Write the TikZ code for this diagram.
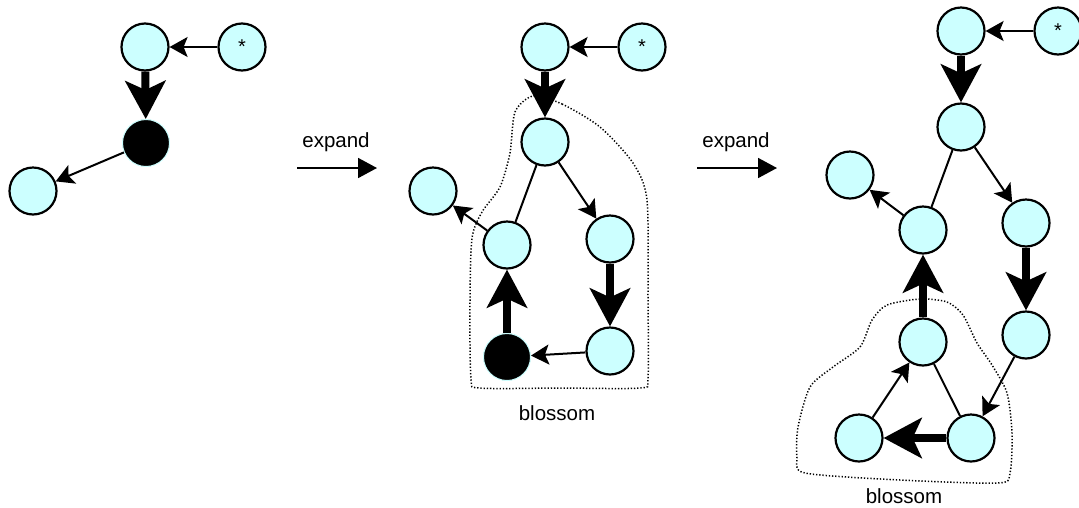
\documentclass[tikz,border=0pt]{standalone}
\usepackage{fontspec}
\setmainfont{Liberation Sans}
\usetikzlibrary{arrows.meta}
\definecolor{nodefill}{RGB}{204,255,255}
\begin{document}
\begin{tikzpicture}[x=1pt,y=-1pt,
  vtx/.style={circle,draw=black,line width=2.2pt,fill=nodefill,minimum size=47pt,inner sep=0pt,font=\fontsize{20}{20}\selectfont},
  blk/.style={circle,draw=nodefill,line width=1pt,fill=black,minimum size=47pt,inner sep=0pt},
  thin/.style={line width=2pt,-{Stealth[length=18pt,width=20pt,inset=4pt]}},
  plain/.style={line width=2pt},
  thick/.style={line width=8pt,-{Stealth[length=38pt,width=40pt,inset=9pt]}},
  expandarrow/.style={line width=1.8pt,-{Triangle[length=19pt,width=20pt]}},
  lbl/.style={font=\fontsize{20.5}{20.5}\selectfont},
  blossomline/.style={line width=1.5pt,dash pattern=on 1.3pt off 1.9pt}
]
\useasboundingbox (0,0) rectangle (1079,507);

% ---------- left graph ----------
\node[vtx] (a1) at (145,47) {};
\node[vtx] (s1) at (242,47) {*};
\node[blk] (b1) at (146,143) {};
\node[vtx] (l1) at (33,191) {};
\draw[thin] (s1) -- (a1);
\draw[thick] (a1) -- (b1);
\draw[thin] (b1) -- (l1);

% ---------- expand 1 ----------
\coordinate (e1s) at (297,168);
\coordinate (e1e) at (377,168);
\draw[expandarrow] (e1s) -- (e1e);
\node[lbl] (e1t) at (336,142) {expand};

% ---------- middle graph ----------
\draw[blossomline] plot[smooth cycle,tension=0.45] coordinates {
  (533,96) (562,104) (600,127) (633,163) (647,200) (648,300) (648,378)
  (640,388) (560,388) (480,388) (471,378) (470,300) (472,238)
  (482,212) (500,187) (510,153) (515,112)};
\node[vtx] (a2) at (545,47) {};
\node[vtx] (s2) at (642,47) {*};
\node[vtx] (m2) at (545,142) {};
\node[vtx] (f2) at (433,191) {};
\node[vtx] (l2) at (507,245) {};
\node[vtx] (r2) at (610,239) {};
\node[blk] (b2) at (507,357) {};
\node[vtx] (rb2) at (610,351) {};
\draw[thin] (s2) -- (a2);
\draw[thick] (a2) -- (m2);
\draw[thin] (m2) -- (r2);
\draw[plain] (m2) -- (l2);
\draw[thin] (l2) -- (f2);
\draw[thick] (r2) -- (rb2);
\draw[thin] (rb2) -- (b2);
\draw[thick] (b2) -- (l2);
\node[lbl] (bl2) at (557,413) {blossom};

% ---------- expand 2 ----------
\coordinate (e2s) at (697,168);
\coordinate (e2e) at (777,168);
\draw[expandarrow] (e2s) -- (e2e);
\node[lbl] (e2t) at (736,142) {expand};

% ---------- right graph ----------
\draw[blossomline] plot[smooth cycle,tension=0.45] coordinates {
  (920,299) (947,302) (963,315) (977,343) (992,365) (1007,393) (1012,433)
  (1010,473) (998,483) (900,480) (805,473) (797,457) (798,427) (810,387)
  (833,367) (860,347) (872,320) (887,305)};
\node[vtx] (a3) at (961,31) {};
\node[vtx] (s3) at (1058,31) {*};
\node[vtx] (m3) at (961,127) {};
\node[vtx] (f3) at (850,175) {};
\node[vtx] (l3) at (923,230) {};
\node[vtx] (r3) at (1026,223) {};
\node[vtx] (lb3) at (923,342) {};
\node[vtx] (rb3) at (1026,335) {};
\node[vtx] (bl3) at (859,438) {};
\node[vtx] (br3) at (971,438) {};
\draw[thin] (s3) -- (a3);
\draw[thick] (a3) -- (m3);
\draw[thin] (m3) -- (r3);
\draw[plain] (m3) -- (l3);
\draw[thin] (l3) -- (f3);
\draw[thick] (r3) -- (rb3);
\draw[thin] (rb3) -- (br3);
\draw[thick] (br3) -- (bl3);
\draw[thin] (bl3) -- (lb3);
\draw[plain] (lb3) -- (br3);
\draw[thick] (lb3) -- (l3);
\node[lbl] (bl3t) at (904,496) {blossom};
\end{tikzpicture}
\end{document}
